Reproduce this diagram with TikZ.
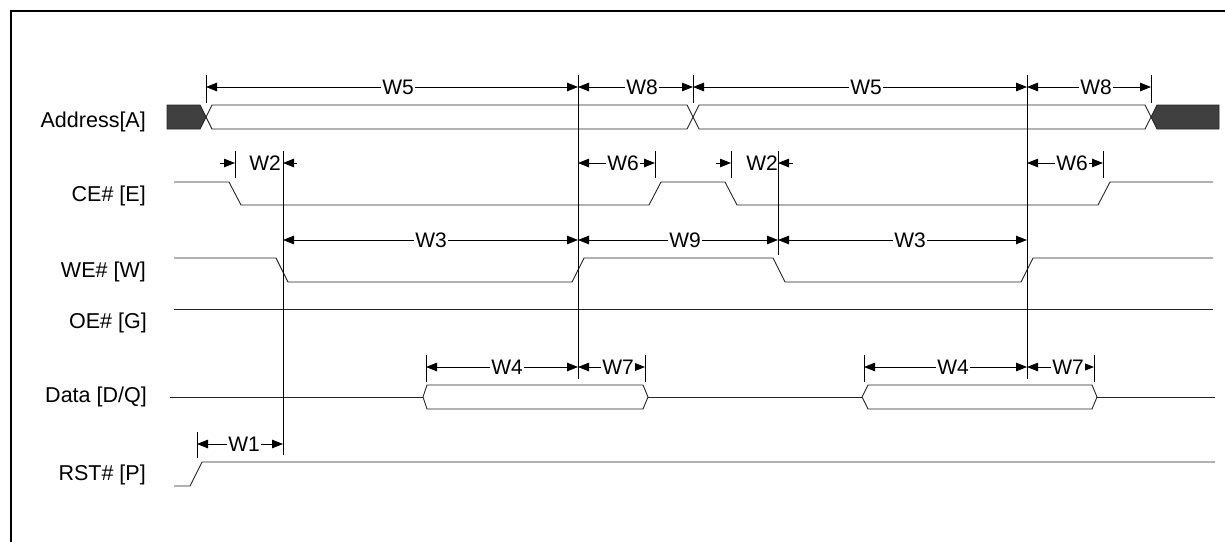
\documentclass[tikz,border=0pt]{standalone}
\usepackage{fontspec}
\setmainfont{Liberation Sans}
\usetikzlibrary{arrows.meta}
\begin{document}
\begin{tikzpicture}[x=1pt,y=-1pt,
  sig/.style={line width=0.9pt, draw=black!85},
  dimln/.style={line width=0.8pt,{Triangle[length=11pt,width=8.5pt]}-{Triangle[length=11pt,width=8.5pt]}},
  tipln/.style={line width=0.8pt,-{Triangle[length=11pt,width=8.5pt]}},
  tickln/.style={line width=0.8pt},
  wlab/.style={font=\fontsize{21}{22}\selectfont, fill=white, inner xsep=1pt, inner ysep=0.5pt, anchor=base},
  wlabnf/.style={font=\fontsize{21}{22}\selectfont, inner sep=0pt, anchor=base},
  siglab/.style={font=\fontsize{21.5}{23}\selectfont, anchor=base east, inner sep=0pt},
  busfill/.style={fill=black!75, draw=black!85, line width=0.9pt},
]
\useasboundingbox (0,0) rectangle (1225,541);
% frame
\draw[line width=2pt] (11,545) -- (11,11) -- (1228,11);

% signal labels
\node[siglab] (lA) at (146,127) {Address[A]};
\node[siglab] (lE) at (146,201) {CE\# [E]};
\node[siglab] (lW) at (146,277) {WE\# [W]};
\node[siglab] (lG) at (147,328) {OE\# [G]};
\node[siglab] (lD) at (147,402) {Data [D/Q]};
\node[siglab] (lP) at (146,480) {RST\# [P]};

% Address bus
\filldraw[busfill] (167,105) -- (200,105) -- (206,117) -- (200,129) -- (167,129) -- cycle;
\draw[sig] (206,117) -- (212,105) -- (687,105) -- (693,117) -- (687,129) -- (212,129) -- cycle;
\draw[sig] (693,117) -- (699,105) -- (1145,105) -- (1151,117) -- (1145,129) -- (699,129) -- cycle;
\filldraw[busfill] (1151,117) -- (1157,105) -- (1219,105) -- (1219,129) -- (1157,129) -- cycle;

% CE#
\draw[sig] (174,182) -- (229,182) -- (241,205) -- (649,205) -- (661,182) -- (725,182) -- (737,205) -- (1098,205) -- (1110,182) -- (1213,182);
% WE#
\draw[sig] (174,258) -- (276,258) -- (288,282) -- (572,282) -- (584,258) -- (773,258) -- (785,282) -- (1021,282) -- (1033,258) -- (1213,258);
% OE#
\draw[sig] (174,309) -- (1213,309);
% Data
\draw[sig] (170,397) -- (423,397);
\draw[sig] (423,397) -- (427,385) -- (643,385) -- (648,397) -- (643,409) -- (427,409) -- cycle;
\draw[sig] (648,397) -- (862,397);
\draw[sig] (862,397) -- (868,385) -- (1092,385) -- (1097,397) -- (1092,409) -- (868,409) -- cycle;
\draw[sig] (1097,397) -- (1215,397);
% RST#
\draw[sig] (174,486) -- (190,486) -- (202,462) -- (1215,462);

% reference verticals
\draw[tickln] (283,151) -- (283,455);
\draw[tickln] (578,75) -- (578,379);
\draw[tickln] (778,151) -- (778,255);
\draw[tickln] (1027,75) -- (1027,379);
% ticks
\foreach \x in {206,693,1151} \draw[tickln] (\x,75) -- (\x,103);
\foreach \x in {235,655,731,1103} \draw[tickln] (\x,151) -- (\x,178);
\foreach \x in {426,645,864,1094} \draw[tickln] (\x,355) -- (\x,382);
\draw[tickln] (197,432) -- (197,458);

% dimensions
\draw[dimln] (206,87) -- (578,87);
\node[wlab] (w5a) at (398,94.5) {W5};
\draw[dimln] (578,87) -- (693,87);
\node[wlab] (w8a) at (642,94.5) {W8};
\draw[dimln] (693,87) -- (1027,87);
\node[wlab] (w5b) at (866,94.5) {W5};
\draw[dimln] (1027,87) -- (1151,87);
\node[wlab] (w8b) at (1096,94.5) {W8};

\draw[tipln] (220,163) -- (235,163);
\draw[tipln] (297,163) -- (283,163);
\node[wlabnf] (w2a) at (265,170.5) {W2};
\draw[dimln] (578,163) -- (655,163);
\node[wlab] (w6a) at (623,170.5) {W6};
\draw[tipln] (716,163) -- (731,163);
\draw[tipln] (793,163) -- (778,163);
\node[wlabnf] (w2b) at (762,170.5) {W2};
\draw[dimln] (1027,163) -- (1103,163);
\node[wlab] (w6b) at (1072,170.5) {W6};

\draw[dimln] (283,240) -- (578,240);
\node[wlab] (w3a) at (431,247.5) {W3};
\draw[dimln] (578,240) -- (778,240);
\node[wlab] (w9) at (685,247.5) {W9};
\draw[dimln] (778,240) -- (1027,240);
\node[wlab] (w3b) at (910,247.5) {W3};

\draw[dimln] (426,367) -- (578,367);
\node[wlab] (w4a) at (507,374.5) {W4};
\draw[dimln] (578,367) -- (645,367);
\node[wlab] (w7a) at (618,374.5) {W7};
\draw[dimln] (864,367) -- (1027,367);
\node[wlab] (w4b) at (953,374.5) {W4};
\draw[dimln] (1027,367) -- (1094,367);
\node[wlab] (w7b) at (1068,374.5) {W7};

\draw[dimln] (197,444) -- (283,444);
\node[wlab] (w1) at (244,451.5) {W1};
\end{tikzpicture}
\end{document}
